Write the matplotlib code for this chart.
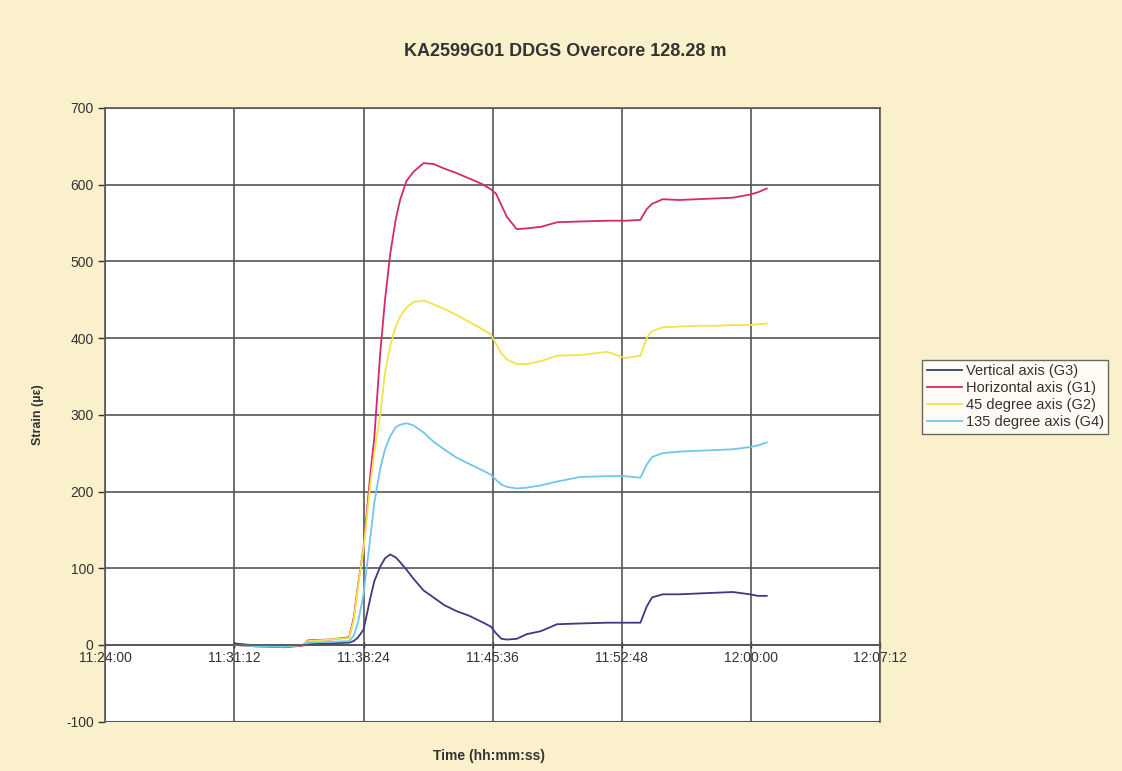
import matplotlib
matplotlib.use('Agg')
import matplotlib.pyplot as plt
from matplotlib.ticker import FuncFormatter, MultipleLocator

plt.rcParams['font.family'] = ['Liberation Sans', 'DejaVu Sans']
plt.rcParams['axes.unicode_minus'] = False

# time in minutes after 11:24:00
minutes = [7.2, 8.5, 10.0, 11.0, 11.3, 12.5, 13.6, 13.85, 14.1, 14.4,
           14.77, 15.0, 15.33, 15.6, 15.89, 16.2, 16.44, 16.8, 17.2, 17.75,
           18.3, 18.9, 19.6, 20.3, 21.0, 21.5, 21.8, 22.1, 22.4, 22.95,
           23.5, 24.3, 25.2, 26.5, 28.0, 29.0, 29.85, 30.2, 30.5, 31.1,
           32.0, 33.0, 34.0, 35.0, 35.96, 36.4, 36.9]

vertical_g3 = [2, -1, -2, 0, 1, 2, 3, 5, 10, 20,
               60, 83, 102, 113, 118, 114, 108, 98, 86, 71,
               62, 52, 44, 38, 30, 24, 15, 8, 7, 8,
               14, 18, 27, 28, 29, 29, 29, 50, 62, 66,
               66, 67, 68, 69, 66, 64, 64]
horizontal_g1 = [0, -2, -3, -1, 6, 7, 10, 35, 80, 127,
                 220, 270, 380, 450, 510, 555, 580, 605, 617, 628,
                 627, 621, 615, 608, 601, 594, 588, 573, 558, 542,
                 543, 545, 551, 552, 553, 553, 554, 568, 575, 581,
                 580, 581, 582, 583, 587, 590, 595]
deg45_g2 = [0, -1, -2, 0, 5, 7, 9, 32, 78, 125,
            208, 250, 300, 355, 390, 415, 428, 440, 447, 449,
            444, 438, 430, 421, 412, 405, 392, 380, 372, 366,
            366, 370, 377, 378, 382, 374, 377, 400, 409, 414,
            415, 416, 416, 417, 417, 418, 419]
deg135_g4 = [0, -2, -2, 0, 3, 4, 5, 12, 30, 66,
             138, 185, 230, 255, 272, 284, 287, 289, 286, 277,
             265, 255, 244, 236, 228, 222, 215, 209, 206, 204,
             205, 208, 213, 219, 220, 220, 218, 235, 245, 250,
             252, 253, 254, 255, 258, 260, 264]

series = [
    ('Vertical axis (G3)', vertical_g3, '#3b3a82'),
    ('Horizontal axis (G1)', horizontal_g1, '#d4286f'),
    ('45 degree axis (G2)', deg45_g2, '#f2e34a'),
    ('135 degree axis (G4)', deg135_g4, '#72c6ea'),
]

def hms(x, pos):
    total = int(round(11 * 3600 + 24 * 60 + x * 60))
    return '%d:%02d:%02d' % (total // 3600, (total % 3600) // 60, total % 60)

fig = plt.figure(figsize=(11.22, 7.71), dpi=100)
fig.patch.set_facecolor('#fbf0cc')
ax = fig.add_axes([0.094, 0.064, 0.69, 0.796])
ax.set_facecolor('white')

for label, vals, color in series:
    ax.plot(minutes, vals, color=color, linewidth=1.3, label=label)

ax.set_xlim(0, 43.2)
ax.set_ylim(-100, 700)
ax.xaxis.set_major_locator(MultipleLocator(7.2))
ax.yaxis.set_major_locator(MultipleLocator(100))
ax.xaxis.set_major_formatter(FuncFormatter(hms))
ax.grid(True, color='#555555', linewidth=1.2)
ax.set_axisbelow(True)

for s in ax.spines.values():
    s.set_color('#555555')
    s.set_linewidth(1.2)
ax.spines['bottom'].set_position(('data', 0))
ax.axhline(-100, color='#555555', linewidth=1.5)

ax.tick_params(axis='both', labelsize=10, colors='#333333', length=5, width=1)
ax.tick_params(axis='x', direction='inout', pad=2)

fig.text(0.504, 0.933, 'KA2599G01 DDGS Overcore 128.28 m', ha='center', va='center',
         fontsize=13, fontweight='bold', color='#333333')
ax.set_ylabel('Strain (\u00b5\u03b5)', fontsize=9, fontweight='bold', color='#333333', labelpad=16)
fig.text(0.436, 0.02, 'Time (hh:mm:ss)', ha='center', va='center', fontsize=10,
         fontweight='bold', color='#333333')

leg = fig.legend(loc='upper left', bbox_to_anchor=(0.822, 0.533), fontsize=10.5,
                 frameon=True, fancybox=False, handlelength=2.4, borderpad=0.3,
                 labelspacing=0.2, handletextpad=0.3, borderaxespad=0)
leg.get_frame().set_edgecolor('#444444')
leg.get_frame().set_facecolor('white')
for t in leg.get_texts():
    t.set_color('#333333')

fig.savefig('out.png', dpi=100, facecolor=fig.get_facecolor())
